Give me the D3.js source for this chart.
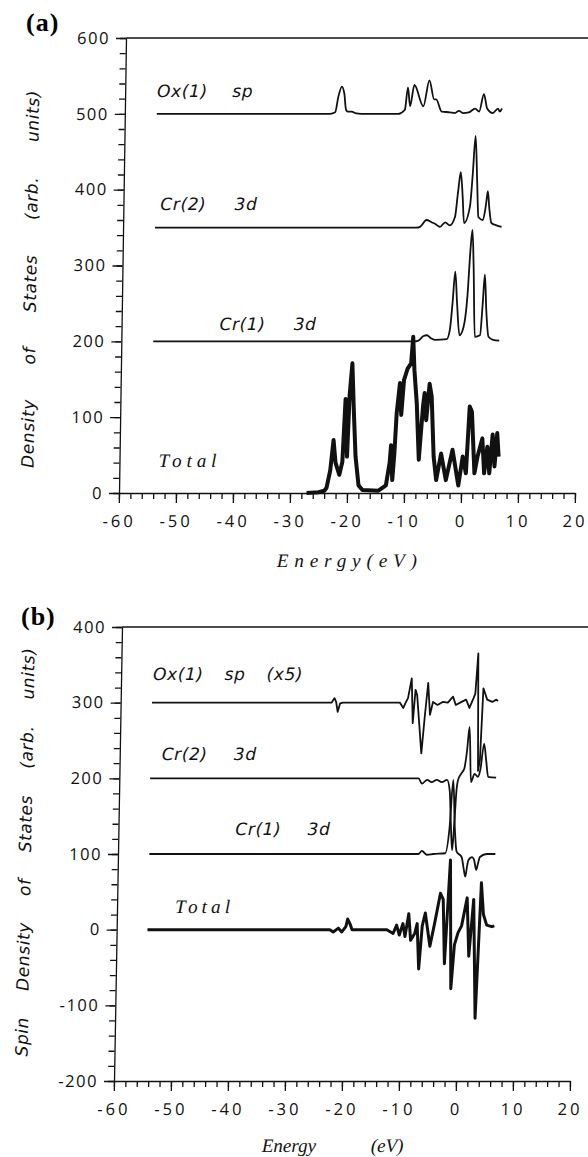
<!DOCTYPE html>
<html>
<head>
<meta charset="utf-8">
<script src="https://cdn.jsdelivr.net/npm/d3@7"></script>
<style>
  body { margin: 0; background: #fff; }
  .axis path, .axis line { stroke: #111; stroke-width: 1.3; }
  .axis text { font-family: "Open Sans", sans-serif; font-size: 16.5px; fill: #111; }
  .lbl { font-family: "DejaVu Sans", sans-serif; font-style: italic; font-size: 17px; letter-spacing: 0.6px; fill: #111; }
  .tot { font-family: "Liberation Serif", serif; font-style: italic; font-size: 19px; fill: #111; }
  .xt { font-family: "Liberation Serif", serif; font-style: italic; font-size: 19px; fill: #111; }
  .curve { fill: none; stroke: #111; stroke-linejoin: round; }
</style>
</head>
<body>
<svg id="chart" width="588" height="1157"></svg>
<script>
// ---- data (energy in eV, values as plotted incl. offsets) ----
var energyTicks = [-60, -50, -40, -30, -20, -10, 0, 10, 20];
var dosTicks = [0, 100, 200, 300, 400, 500, 600];
var spinTicks = [-200, -100, 0, 100, 200, 300, 400];

// panel (a) density of states
var dosOx = [[-54.4,500],[-24,500],[-23.1,502],[-22.6,522],[-22.0,536],[-21.55,527],[-21.2,505],[-20.9,503],[-20.2,503],
  [-19.6,501],[-18.5,500],[-12,500],[-11.6,501],[-11.2,503],[-10.86,506],[-10.4,535],[-9.98,510],[-9.28,538],[-7.65,510],
  [-6.65,544],[-5.77,519],[-5.42,519],[-4.42,503],[-2.95,502],[-2.1,501],[-1.4,504],[-0.7,501],[0.35,502],[1.45,507],
  [2.15,503],[2.95,526],[3.55,507],[4.55,501],[5.45,507],[5.75,503],[6.15,507]];
var dosCr2 = [[-54.4,350],[-8.5,350],[-7.9,351],[-6.8,360],[-5.9,357],[-5.3,355],[-4.4,351],[-3.5,357],[-2.7,353],[-1.8,364],
  [-1.35,395],[-0.9,423],[-0.5,390],[-0.2,356],[0.8,378],[1.2,420],[1.6,471],[2.0,410],[2.3,364],[3.1,360],[3.6,380],
  [3.9,398],[4.2,375],[4.6,356],[5.5,353],[6.4,351]];
var dosCr1 = [[-54.4,200],[-8.5,200],[-7.9,201],[-7.0,207],[-6.4,208],[-5.7,204],[-5.0,202],[-2.9,203],[-2.4,215],[-2.0,250],
  [-1.6,292],[-1.2,250],[-0.7,208],[0.0,219],[0.6,260],[1.0,320],[1.3,347],[1.6,300],[2.0,206],[2.9,208],[3.3,250],
  [3.6,288],[3.95,240],[4.4,206],[5.2,202],[6.3,201]];
var dosTotal = [[-27.1,0],[-25,1],[-24,3],[-23.6,7],[-23.0,30],[-22.5,70],[-22.1,40],[-21.4,24],[-20.9,41],[-20.5,124],
  [-20.1,48],[-19.8,129],[-19.4,171],[-19.0,105],[-18.6,48],[-18.0,10],[-17.3,4],[-14.5,3],[-13.2,10],[-12.6,40],
  [-12.4,63],[-12.1,17],[-11.8,52],[-11.5,105],[-11.0,145],[-10.7,103],[-10.3,149],[-9.7,164],[-9.1,171],[-8.8,206],
  [-8.5,162],[-8.0,118],[-7.5,44],[-6.9,114],[-6.65,132],[-6.3,96],[-5.8,144],[-5.4,127],[-4.9,48],[-4.4,17],[-3.6,52],
  [-2.7,17],[-1.6,57],[-0.5,10],[0.2,48],[0.8,26],[1.3,114],[1.7,107],[2.3,26],[2.8,48],[3.6,72],[4.0,26],[4.5,61],
  [4.9,26],[5.4,77],[5.8,35],[6.2,79],[6.5,48]];

// panel (b) spin density
var spinOx = [[-54.5,300],[-23.0,300],[-22.5,306],[-22.2,301],[-21.9,288],[-21.5,299],[-21.0,300],[-11.0,300],[-10.4,293],
  [-10.0,300],[-9.6,306],[-9.0,332],[-8.7,273],[-8.3,317],[-8.0,310],[-7.1,233],[-6.6,282],[-6.1,326],[-5.7,284],
  [-5.2,301],[-4.4,297],[-3.5,301],[-2.6,300],[-1.7,308],[-1.2,297],[-0.2,301],[0.6,304],[1.2,293],[1.9,306],[2.2,312],
  [2.6,365],[2.9,210],[3.2,224],[3.6,319],[4.3,304],[5.2,301],[5.9,304],[6.2,302]];
var spinCr2 = [[-54.6,200],[-7.5,200],[-6.9,193],[-6.0,198],[-5.2,195],[-4.3,198],[-3.4,195],[-2.5,198],[-2.0,184],
  [-1.7,140],[-1.4,105],[-1.1,140],[-0.8,185],[-0.6,197],[-0.05,206],[0.5,213],[0.9,235],[1.3,268],[1.7,195],[2.3,206],
  [2.9,202],[3.3,211],[3.9,246],[4.3,224],[4.7,202],[6.1,201]];
var spinCr1 = [[-54.5,100],[-7.3,100],[-6.7,104],[-5.8,99],[-4.7,100],[-2.6,101],[-1.9,136],[-1.4,198],[-1.0,136],
  [-0.6,103],[0.3,96],[0.7,80],[1.0,70],[1.3,85],[1.5,92],[2.1,96],[2.5,92],[2.9,79],[3.2,88],[3.5,96],[4.7,100],[6.2,100]];
var spinTotal = [[-54.6,0],[-22.6,0],[-22.0,-3],[-21.1,2],[-20.5,-3],[-19.8,4],[-19.5,14],[-19.1,8],[-18.7,0],[-12.6,0],
  [-11.5,-5],[-10.9,6],[-10.4,-7],[-9.8,8],[-9.4,-9],[-8.8,21],[-8.4,-14],[-7.7,-5],[-7.3,8],[-6.9,-52],[-6.4,5],
  [-5.9,22],[-5.0,-22],[-4.2,10],[-3.3,48],[-2.8,40],[-2.4,-45],[-1.65,92],[-1.2,-78],[-0.7,-20],[-0.1,-4],[0.5,5],
  [1.4,42],[1.85,-35],[2.55,40],[3.15,-117],[3.85,62],[4.3,20],[4.9,6],[5.8,4],[6.25,5]];

var svg = d3.select("#chart");

function fitWords(sel, target) {
  var n = sel.text().split(" ").length - 1;
  var w = sel.node().getComputedTextLength();
  if (n > 0) sel.attr("word-spacing", Math.max(0, (target - w) / n));
}

function drawPanel(cfg) {
  var x = d3.scaleLinear().domain([-60, 20]).range([cfg.left, cfg.left + 456]);
  var y = d3.scaleLinear().domain(cfg.yDomain).range([cfg.bottom, cfg.top]);

  // the scanned figure leans slightly: shear about the bottom axis
  var g = svg.append("g")
    .attr("transform", "matrix(1,0," + (-cfg.k) + ",1," + (cfg.k * cfg.bottom) + ",0)");

  g.append("line")
    .attr("x1", cfg.left).attr("x2", 600)
    .attr("y1", cfg.top).attr("y2", cfg.top)
    .attr("stroke", "#111").attr("stroke-width", 1.3);

  // minor ticks
  g.append("g").attr("class", "axis")
    .attr("transform", "translate(0," + cfg.bottom + ")")
    .call(d3.axisBottom(x).tickValues(d3.range(-60, 21, 2)).tickSize(6).tickFormat(""))
    .select(".domain").remove();
  g.append("g").attr("class", "axis")
    .attr("transform", "translate(" + cfg.left + ",0)")
    .call(d3.axisLeft(y).tickValues(d3.range(cfg.yDomain[0], cfg.yDomain[1] + 1, 20)).tickSize(6).tickFormat(""))
    .select(".domain").remove();

  g.append("g").attr("class", "axis axis--x")
    .attr("transform", "translate(0," + cfg.bottom + ")")
    .call(d3.axisBottom(x).tickValues(energyTicks).tickSize(10).tickSizeOuter(0).tickPadding(12)
      .tickFormat(function(d) { return String(d); }))
    .selectAll("text").attr("letter-spacing", 3);

  g.append("g").attr("class", "axis axis--y")
    .attr("transform", "translate(" + cfg.left + ",0)")
    .call(d3.axisLeft(y).tickValues(cfg.yTicks).tickSize(10).tickSizeOuter(0).tickPadding(6)
      .tickFormat(function(d) { return String(d); }))
    .selectAll("text").attr("letter-spacing", 1.5);

  var line = d3.line()
    .x(function(d) { return x(d[0]); })
    .y(function(d) { return y(d[1]); });

  cfg.series.forEach(function(s) {
    g.append("path")
      .datum(s.data)
      .attr("class", "curve")
      .attr("stroke-width", s.w)
      .attr("d", line.curve(s.smooth ? d3.curveMonotoneX : d3.curveLinear));
  });

  cfg.labels.forEach(function(l) {
    var t = g.append("text")
      .attr("class", l.cls)
      .attr("x", l.x).attr("y", l.y)
      .text(l.text);
    if (l.spaced) t.attr("textLength", l.width).attr("lengthAdjust", "spacing");
    else fitWords(t, l.width);
  });

  var yt = g.append("text")
    .attr("class", "lbl")
    .attr("text-anchor", "middle")
    .attr("transform", "translate(" + cfg.ytitle.x + "," + cfg.ytitle.y + ") rotate(-90)")
    .text(cfg.ytitle.text);
  fitWords(yt, cfg.ytitle.len);

  cfg.xtitle.forEach(function(l) {
    var t = g.append("text")
      .attr("class", "xt")
      .attr("x", l.x).attr("y", l.y)
      .text(l.text);
    if (l.width) t.attr("textLength", l.width).attr("lengthAdjust", "spacing");
  });

  svg.append("text")
    .attr("x", cfg.tag.x).attr("y", cfg.tag.y)
    .attr("font-family", "Liberation Serif, serif")
    .attr("font-weight", "bold")
    .attr("font-size", 26)
    .attr("letter-spacing", 1)
    .text(cfg.tag.text);
}

drawPanel({
  left: 119, top: 38, bottom: 493, k: 0.0154,
  yDomain: [0, 600], yTicks: dosTicks,
  series: [
    { data: dosOx, w: 1.8, smooth: true },
    { data: dosCr2, w: 1.8, smooth: true },
    { data: dosCr1, w: 1.8, smooth: true },
    { data: dosTotal, w: 4, smooth: false }
  ],
  labels: [
    { text: "Ox(1) sp", x: 151, y: 97, width: 96, cls: "lbl" },
    { text: "Cr(2) 3d", x: 156, y: 210, width: 97, cls: "lbl" },
    { text: "Cr(1) 3d", x: 217, y: 330, width: 97, cls: "lbl" },
    { text: "Total", x: 158, y: 467, width: 58, cls: "tot", spaced: true }
  ],
  ytitle: { text: "Density of States (arb. units)", x: 33, y: 279, len: 378 },
  xtitle: [{ text: "Energy(eV)", x: 278, y: 567, width: 140 }],
  tag: { text: "(a)", x: 26, y: 31 }
});

drawPanel({
  left: 114, top: 627, bottom: 1081, k: 0.0176,
  yDomain: [-200, 400], yTicks: spinTicks,
  series: [
    { data: spinOx, w: 1.8, smooth: false },
    { data: spinCr2, w: 1.8, smooth: true },
    { data: spinCr1, w: 1.8, smooth: true },
    { data: spinTotal, w: 3, smooth: false }
  ],
  labels: [
    { text: "Ox(1) sp (x5)", x: 146, y: 680, width: 150, cls: "lbl" },
    { text: "Cr(2) 3d", x: 156, y: 760, width: 95, cls: "lbl" },
    { text: "Cr(1) 3d", x: 231, y: 835, width: 95, cls: "lbl" },
    { text: "Total", x: 172, y: 913, width: 55, cls: "tot", spaced: true }
  ],
  ytitle: { text: "Spin Density of States (arb. units)", x: 27, y: 852, len: 409 },
  xtitle: [{ text: "Energy", x: 263, y: 1152 }, { text: "(eV)", x: 372, y: 1152 }],
  tag: { text: "(b)", x: 21, y: 625 }
});
</script>
</body>
</html>
